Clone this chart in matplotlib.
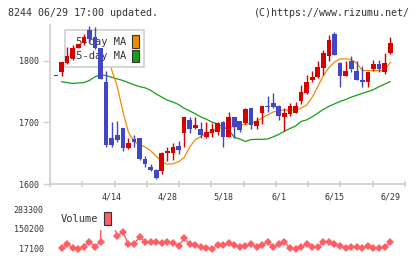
"""
Daily candlestick chart for 8244 with 5/25-day moving averages and volume.
"""

import numpy as np
import matplotlib.pyplot as plt
import matplotlib.patches as mpatches

# -- Data -----------------------------------------------------------------------
OPEN = [1776, 1781, 1796, 1805, 1821, 1828, 1850, 1839, 1821, 1765,
        1674, 1679, 1691, 1659, 1673, 1675, 1640, 1628, 1623, 1621,
        1650, 1650, 1661, 1682, 1704, 1691, 1690, 1676, 1683, 1685,
        1701, 1677, 1708, 1703, 1699, 1724, 1694, 1715, 1727, 1732,
        1726, 1708, 1714, 1715, 1734, 1748, 1768, 1773, 1789, 1807,
        1844, 1796, 1776, 1800, 1784, 1769, 1765, 1786, 1795, 1781,
        1812]
HIGH = [1776, 1798, 1823, 1825, 1827, 1844, 1856, 1855, 1821, 1784,
        1700, 1702, 1691, 1674, 1679, 1675, 1645, 1633, 1625, 1652,
        1660, 1667, 1669, 1709, 1709, 1708, 1700, 1700, 1699, 1701,
        1703, 1717, 1708, 1703, 1724, 1724, 1708, 1727, 1742, 1748,
        1729, 1723, 1732, 1733, 1761, 1777, 1784, 1800, 1818, 1842,
        1846, 1798, 1800, 1808, 1800, 1792, 1782, 1802, 1802, 1812,
        1839]
LOW = [1776, 1776, 1795, 1802, 1821, 1826, 1828, 1819, 1770, 1660,
       1660, 1668, 1654, 1656, 1660, 1639, 1627, 1621, 1608, 1617,
       1638, 1639, 1648, 1660, 1682, 1690, 1674, 1675, 1677, 1679,
       1660, 1677, 1675, 1684, 1697, 1690, 1690, 1698, 1717, 1724,
       1704, 1686, 1711, 1715, 1730, 1746, 1765, 1772, 1777, 1799,
       1809, 1758, 1776, 1781, 1768, 1757, 1758, 1784, 1781, 1779,
       1811]
CLOSE = [1776, 1798, 1808, 1821, 1827, 1839, 1835, 1821, 1770, 1663,
         1663, 1672, 1659, 1666, 1668, 1640, 1633, 1623, 1610, 1650,
         1654, 1660, 1655, 1709, 1690, 1695, 1680, 1685, 1690, 1699,
         1677, 1708, 1692, 1687, 1721, 1696, 1702, 1727, 1725, 1725,
         1710, 1716, 1727, 1726, 1750, 1766, 1774, 1790, 1812, 1834,
         1809, 1776, 1784, 1786, 1768, 1765, 1782, 1795, 1786, 1796,
         1828]

MA5 = [np.nan] * 5 + [
    1806, 1818, 1826, 1828, 1818, 1785, 1758, 1718, 1684, 1669,
    1664, 1660, 1654, 1645, 1636, 1632, 1633, 1636, 1643, 1660,
    1672, 1677, 1682, 1686, 1689, 1693, 1692, 1693, 1695, 1697,
    1698, 1702, 1707, 1712, 1717, 1719, 1720, 1720, 1720, 1723,
    1728, 1741, 1758, 1776, 1789, 1798, 1803, 1803, 1802, 1796,
    1784, 1784, 1784, 1784, 1784, 1797]
MA25 = [np.nan, 1766, 1764.5, 1763, 1764, 1764.5, 1768, 1774, 1777, 1776,
        1773, 1770.5, 1768, 1764.5, 1761, 1758, 1756, 1752, 1746, 1741,
        1736, 1733, 1729, 1723, 1718.5, 1714, 1709, 1705, 1700.5, 1697.5,
        1692.5, 1688, 1676, 1673, 1669, 1672, 1672.5, 1672.5, 1673, 1676.5,
        1680.5, 1685.5, 1690, 1694, 1701.5, 1704, 1709, 1715, 1721, 1726,
        1730, 1734, 1737, 1741, 1744, 1747, 1750, 1753, 1758, 1762,
        1766]

VOLUME = [np.nan, 25800, 48700, 25800, 17100, 32600, 66200, 32600, 66200, 2000000,
          213000, 104500, 129400, 50700, 50700, 95700, 66200, 62100, 62100, 59500,
          66200, 59500, 37300, 89000, 50700, 44000, 28500, 25800, 17100, 44000,
          44000, 57400, 44000, 28500, 37300, 48700, 32600, 44000, 66200, 28500,
          48700, 66200, 21800, 15100, 28500, 52700, 28500, 28500, 66200, 62100,
          50700, 37300, 21800, 28500, 28500, 21800, 37300, 21800, 21800, 28500,
          62100]

DATE_IDX    = [10, 20, 30, 40, 50, 60]
DATE_LABELS = ["4/14", "4/28", "5/18", "6/1", "6/15", "6/29"]
PRICE_TICKS = [1600, 1700, 1800]
VOL_TICKS   = [17100, 150200, 283300]

# -- Styling -------------------------------------------------------------------
UP_COLOR   = "#d60000"
DOWN_COLOR = "#4046c4"
MA5_COLOR  = "#f08c00"
MA25_COLOR = "#14a014"
VOL_COLOR  = "#ff5f64"
AXIS_GREY  = "#d0d0d0"
TEXT_COLOR = "#333333"
FONT       = "DejaVu Sans Mono"

W, H = 420, 259
XMIN, XMAX = -1.08, 62.66

plt.rcParams["font.family"] = [FONT]


def frac(x0, y0, x1, y1):
    """pixel box -> figure fraction rect"""
    return [x0 / W, 1 - y1 / H, (x1 - x0) / W, (y1 - y0) / H]


def plot_price(ax):
    x = np.arange(len(CLOSE))
    o, h, l, c = map(np.asarray, (OPEN, HIGH, LOW, CLOSE))
    colors = np.where(c >= o, UP_COLOR, DOWN_COLOR)
    body = np.maximum(np.abs(c - o), 1.2)

    ax.plot(x, MA25, color=MA25_COLOR, lw=0.9, zorder=2)
    ax.plot(x, MA5, color=MA5_COLOR, lw=0.9, zorder=2)
    ax.vlines(x, l, h, colors=colors, lw=1.0, zorder=3)
    ax.bar(x, body, bottom=np.minimum(o, c), width=0.84, color=colors,
           linewidth=0, zorder=3.5)

    ax.set_xlim(XMIN, XMAX)
    ax.set_ylim(1600, 1858)

    for s in ("top", "right"):
        ax.spines[s].set_visible(False)
    for s in ("left", "bottom"):
        ax.spines[s].set_color(AXIS_GREY)
        ax.spines[s].set_linewidth(1.2)

    ax.set_yticks(PRICE_TICKS)
    ax.tick_params(axis="y", length=5, width=1, color=AXIS_GREY, pad=3,
                   labelsize=6, labelcolor=TEXT_COLOR)
    ax.set_xticks(DATE_IDX)
    ax.set_xticklabels(DATE_LABELS)
    ax.set_xticks(np.linspace(XMIN, XMAX, 12), minor=True)
    ax.tick_params(axis="x", which="major", length=0, pad=6,
                   labelsize=6, labelcolor=TEXT_COLOR)
    ax.tick_params(axis="x", which="minor", length=4.5, width=1.2,
                   color=AXIS_GREY, direction="inout")

    # monospace labels, padded so they line up on the right like the original
    handles = [mpatches.Patch(facecolor=MA5_COLOR, edgecolor="#333333", lw=0.8),
               mpatches.Patch(facecolor=MA25_COLOR, edgecolor="#333333", lw=0.8)]
    leg = ax.legend(handles, [" 5-day MA", "25-day MA"], loc="upper left",
                    bbox_to_anchor=(15 / 355, 154 / 159), borderaxespad=0,
                    markerfirst=False, fontsize=7.5, handlelength=0.68,
                    handleheight=1.45, labelspacing=0.2, handletextpad=0.55,
                    borderpad=0.5, fancybox=False, framealpha=1,
                    edgecolor=AXIS_GREY, facecolor="white")
    leg.get_frame().set_linewidth(1.2)
    for t in leg.get_texts():
        t.set_color(TEXT_COLOR)
    leg.set_zorder(2.5)   # above MA lines, below candles


def plot_volume(ax):
    x = np.arange(len(VOLUME))
    ax.plot(x, VOLUME, color=VOL_COLOR, lw=1.0, marker="D", markersize=4.3,
            markeredgewidth=0, zorder=2)
    ax.set_xlim(XMIN, XMAX)
    ax.set_ylim(17100 - 3 * 6705, 283300 + 2 * 6705)
    for s in ax.spines.values():
        s.set_visible(False)
    ax.set_xticks([])
    ax.set_yticks(VOL_TICKS)
    ax.set_yticklabels([str(v) for v in VOL_TICKS])
    ax.tick_params(axis="y", length=0, pad=4.5, labelsize=6,
                   labelcolor=TEXT_COLOR)

    # white legend box also hides the spike that runs off the top
    handle = mpatches.Patch(facecolor=VOL_COLOR, edgecolor="#333333", lw=0.8)
    leg = ax.legend([handle], ["Volume"], loc="upper right",
                    bbox_to_anchor=(66 / 355, 1.0), borderaxespad=0,
                    markerfirst=False, fontsize=7.5, handlelength=0.68,
                    handleheight=1.45, handletextpad=0.55, borderpad=0.5,
                    fancybox=False, framealpha=1, edgecolor="none",
                    facecolor="white")
    for t in leg.get_texts():
        t.set_color(TEXT_COLOR)


def main():
    fig = plt.figure(figsize=(W / 100, H / 100), dpi=100)
    ax = fig.add_axes(frac(50, 25, 405, 184))
    axv = fig.add_axes(frac(50, 207, 405, 252))
    plot_price(ax)
    plot_volume(axv)

    fig.text(8 / W, 1 - 12.5 / H, "8244 06/29 17:00 updated.", fontsize=7.2,
             color=TEXT_COLOR, va="center", ha="left")
    fig.text(410 / W, 1 - 12.5 / H, "(C)https://www.rizumu.net/", fontsize=7.2,
             color=TEXT_COLOR, va="center", ha="right")

    fig.savefig("out.png", dpi=100)


if __name__ == "__main__":
    main()
